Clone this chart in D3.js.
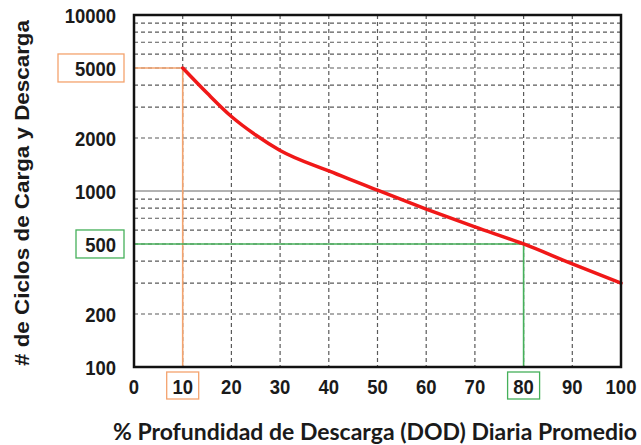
<!DOCTYPE html>
<html>
<head>
<meta charset="utf-8">
<script src="https://cdn.jsdelivr.net/npm/d3@7"></script>
<style>
  body { margin: 0; background: #fff; }
  svg { display: block; }
</style>
</head>
<body>
<div id="vis-container"></div>
<script>
// Set dimensions and margins for the plot
const width = 641;
const height = 445;
const margin = {left: 134, right: 20, top: 15, bottom: 78};

// data
const dod = [10, 15, 20, 25, 30, 40, 50, 60, 70, 80, 90, 100];
const cycles = [5000, 3600, 2650, 2080, 1700, 1300, 1010, 790, 625, 500, 385, 300];
const xTicks = [0, 10, 20, 30, 40, 50, 60, 70, 80, 90, 100];
const yTicks = [100, 200, 500, 1000, 2000, 5000, 10000];
const yMinor = [200, 300, 400, 500, 600, 700, 800, 900,
                2000, 3000, 4000, 5000, 6000, 7000, 8000, 9000];
const markX = [10, 80];
const markY = [5000, 500];
const markColors = ["#f4a36e", "#45b05a"];

const svg = d3.select("#vis-container")
  .append("svg")
  .attr("width", width)
  .attr("height", height);

const x = d3.scaleLinear()
  .domain([0, 100])
  .range([margin.left, width - margin.right]);

const y = d3.scaleLog()
  .domain([100, 10000])
  .range([height - margin.bottom, margin.top]);

const x0 = x(0), x1 = x(100), y0 = y(100), y1 = y(10000);

// grid - vertical
svg.append("g")
  .selectAll("line")
  .data(xTicks.filter(d => d > 0 && d < 100))
  .join("line")
  .attr("x1", d => x(d)).attr("x2", d => x(d))
  .attr("y1", y1).attr("y2", y0)
  .attr("stroke", "#5a5a5a")
  .attr("stroke-width", 1.2)
  .attr("stroke-dasharray", "4,3");

// grid - horizontal minor (dashed)
svg.append("g")
  .selectAll("line")
  .data(yMinor)
  .join("line")
  .attr("x1", x0).attr("x2", x1)
  .attr("y1", d => y(d)).attr("y2", d => y(d))
  .attr("stroke", "#5a5a5a")
  .attr("stroke-width", 1.2)
  .attr("stroke-dasharray", "4,3");

// 1000 line solid
svg.append("line")
  .attr("x1", x0).attr("x2", x1)
  .attr("y1", y(1000)).attr("y2", y(1000))
  .attr("stroke", "#999")
  .attr("stroke-width", 1.5);

// highlight guides (orange at 10, green at 80)
markX.forEach((mx, i) => {
  const my = markY[i];
  svg.append("path")
    .attr("d", `M${x0},${y(my)}H${x(mx)}M${x(mx)},${y(my)}V${y0}`)
    .attr("fill", "none")
    .attr("stroke", markColors[i])
    .attr("stroke-width", 1.6);
});

// curve
const line = d3.line()
  .x((d, i) => x(dod[i]))
  .y(d => y(d))
  .curve(d3.curveMonotoneX);

svg.append("path")
  .datum(cycles)
  .attr("fill", "none")
  .attr("stroke", "#f01818")
  .attr("stroke-width", 3.5)
  .attr("stroke-linecap", "round")
  .attr("d", line);

// frame
svg.append("rect")
  .attr("x", x0).attr("y", y1)
  .attr("width", x1 - x0).attr("height", y0 - y1)
  .attr("fill", "none")
  .attr("stroke", "#111")
  .attr("stroke-width", 2.5);

// y tick labels (slightly condensed like the original)
svg.append("g")
  .selectAll("text")
  .data(yTicks)
  .join("text")
  .attr("transform", d => `translate(116,${y(d)}) scale(0.88,1)`)
  .attr("dy", "0.36em")
  .attr("text-anchor", "end")
  .attr("font-family", "Liberation Sans, Arial, sans-serif")
  .attr("font-weight", "bold")
  .attr("font-size", "21px")
  .attr("fill", "#1a1a1a")
  .text(d => d);

// x tick labels
svg.append("g")
  .selectAll("text")
  .data(xTicks)
  .join("text")
  .attr("transform", d => `translate(${x(d)},386) scale(0.88,1)`)
  .attr("dy", "0.36em")
  .attr("text-anchor", "middle")
  .attr("font-family", "Liberation Sans, Arial, sans-serif")
  .attr("font-weight", "bold")
  .attr("font-size", "21px")
  .attr("fill", "#1a1a1a")
  .text(d => d);

// boxes around highlighted labels
markY.forEach((my, i) => {
  const w = i === 0 ? 66 : 48;
  svg.append("rect")
    .attr("x", 124 - w).attr("y", y(my) - 14)
    .attr("width", w).attr("height", 28)
    .attr("fill", "none")
    .attr("stroke", markColors[i])
    .attr("stroke-width", 1.3);
});
markX.forEach((mx, i) => {
  svg.append("rect")
    .attr("x", x(mx) - 16).attr("y", 372)
    .attr("width", 32).attr("height", 27)
    .attr("fill", "none")
    .attr("stroke", markColors[i])
    .attr("stroke-width", 1.3);
});

// axis titles
svg.append("text")
  .attr("transform", `translate(22, ${(y0 + y1) / 2 + 2}) rotate(-90)`)
  .attr("text-anchor", "middle")
  .attr("dy", "0.35em")
  .attr("font-family", "Liberation Sans, Arial, sans-serif")
  .attr("font-weight", "bold")
  .attr("font-size", "20px")
  .attr("fill", "#1a1a1a")
  .attr("textLength", 346)
  .attr("lengthAdjust", "spacingAndGlyphs")
  .text("# de Ciclos de Carga y Descarga");

svg.append("text")
  .attr("x", 375)
  .attr("y", 432)
  .attr("dy", "0.35em")
  .attr("text-anchor", "middle")
  .attr("font-family", "Lato, Open Sans, sans-serif")
  .attr("font-weight", "bold")
  .attr("font-size", "22px")
  .attr("fill", "#1a1a1a")
  .attr("textLength", 524)
  .attr("lengthAdjust", "spacingAndGlyphs")
  .text("% Profundidad de Descarga (DOD) Diaria Promedio");
</script>
</body>
</html>
